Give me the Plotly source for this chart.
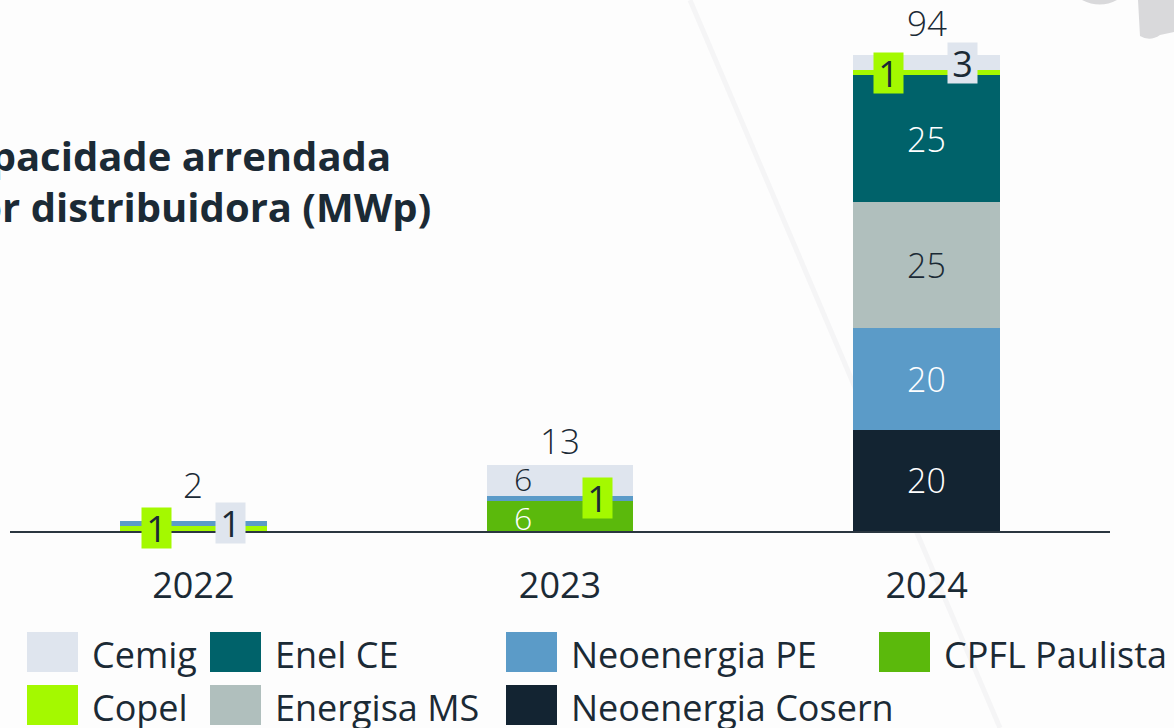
import plotly.graph_objects as go

# ---------------- data ----------------
years = ["2022", "2023", "2024"]
cosern = [0, 0, 20]
neo_pe = [0, 0, 20]
energisa = [0, 0, 25]
enel = [0, 0, 25]
cpfl = [0, 6, 0]
copel = [1, 1, 1]
cemig = [1, 6, 3]
totals = [2, 13, 94]

legend_row1 = ["Cemig", "Enel CE", "Neoenergia PE", "CPFL Paulista"]
legend_row2 = ["Copel", "Energisa MS", "Neoenergia Cosern"]

title_lines = ["Capacidade arrendada", "por distribuidora (MWp)"]

# ---------------- styles ----------------
C_CEMIG = "#dfe5ee"
C_ENEL = "#00626a"
C_PE = "#5b9bc8"
C_CPFL = "#5bb90c"
C_COPEL = "#a4f900"
C_ENERGISA = "#b0bfbd"
C_COSERN = "#132432"
TXT = "#1b2a35"
FONT = "Open Sans"

W, H = 1174, 728
L, R, T, B = 10, 64, 0, 197
PW, PH = W - L - R, H - T - B
PX_PER_UNIT = 5.064
YMAX = PH / PX_PER_UNIT


def px(x):
    return (x - L) / PW


def py(y):
    return (H - B - y) / PH


xs = list(range(len(years)))

traces = [
    ("Neoenergia Cosern", cosern, [C_COSERN] * 3),
    ("Neoenergia PE", neo_pe, [C_PE] * 3),
    ("Energisa MS", energisa, [C_ENERGISA] * 3),
    ("Enel CE", enel, [C_ENEL] * 3),
    ("CPFL Paulista", cpfl, [C_CPFL] * 3),
    ("Copel", copel, [C_COPEL, C_PE, C_COPEL]),
    ("Cemig", cemig, [C_PE, C_CEMIG, C_CEMIG]),
]
values = {n: v for n, v, c in traces}

fig = go.Figure()
for name, vals, cols in traces:
    fig.add_trace(go.Bar(
        x=xs, y=vals, name=name, width=0.4,
        marker=dict(color=cols, line=dict(width=0)),
        showlegend=False, hoverinfo="skip",
    ))

annotations = []
num_font = dict(family=FONT, size=34, color=TXT, weight=300)

# cumulative bases
bases = {}
cum = [0, 0, 0]
for name, vals, cols in traces:
    bases[name] = list(cum)
    cum = [c + v for c, v in zip(cum, vals)]


def seg_mid(name, i):
    return bases[name][i] + values[name][i] / 2


# centered labels on 2024 large segments
inside_specs = [
    ("Neoenergia Cosern", 2, "white"),
    ("Neoenergia PE", 2, "white"),
    ("Energisa MS", 2, TXT),
    ("Enel CE", 2, "white"),
]
for name, i, col in inside_specs:
    annotations.append(dict(
        x=xs[i], y=seg_mid(name, i), xref="x", yref="y", text=str(values[name][i]),
        showarrow=False, font=dict(num_font, color=col),
    ))

# 2023 labels offset left
for name, col, dy in [("CPFL Paulista", "white", -2), ("Cemig", TXT, 2)]:
    annotations.append(dict(
        x=xs[1], y=seg_mid(name, 1), xref="x", yref="y", text=str(values[name][1]),
        showarrow=False, xshift=-37, yshift=dy, font=dict(num_font, size=32, color=col),
    ))

# boxed small labels
box_specs = [
    ("Copel", 0, -37, C_COPEL),
    ("Cemig", 0, 37, C_CEMIG),
    ("Copel", 1, 37, C_COPEL),
    ("Copel", 2, -38, C_COPEL),
    ("Cemig", 2, 36, C_CEMIG),
]
for name, i, dx, bg in box_specs:
    annotations.append(dict(
        x=xs[i], y=seg_mid(name, i), xref="x", yref="y", text=str(values[name][i]),
        showarrow=False, xshift=dx, bgcolor=bg, width=29, height=40,
        borderpad=0, font=dict(num_font, size=36, color=TXT, weight=400),
    ))

# totals
total_shift = [36, 25, 32]
for i, t in enumerate(totals):
    annotations.append(dict(
        x=xs[i], y=t, xref="x", yref="y", text=str(t), showarrow=False,
        yshift=total_shift[i], font=dict(num_font, size=35),
    ))

# title (clipped on the left as in the reference)
for line, xr, yc in zip(title_lines, [393, 433], [155, 206]):
    annotations.append(dict(
        x=px(xr), y=py(yc), xref="paper", yref="paper", text=line,
        showarrow=False, xanchor="right", yanchor="middle",
        font=dict(family=FONT, size=40, color=TXT, weight=700),
    ))

# manual legend
shapes = []
legend_colors = {
    "Cemig": C_CEMIG, "Enel CE": C_ENEL, "Neoenergia PE": C_PE,
    "CPFL Paulista": C_CPFL, "Copel": C_COPEL, "Energisa MS": C_ENERGISA,
    "Neoenergia Cosern": C_COSERN,
}
box_x = [27, 210, 506, 879]
for row, (names, ytop) in enumerate([(legend_row1, 632), (legend_row2, 685)]):
    for j, nm in enumerate(names):
        x0 = box_x[j]
        shapes.append(dict(
            type="rect", xref="paper", yref="paper",
            x0=px(x0), x1=px(x0 + 51), y0=py(ytop), y1=py(ytop + 40),
            fillcolor=legend_colors[nm], line=dict(width=0), layer="above",
        ))
        annotations.append(dict(
            x=px(x0 + 63), y=py(ytop + 22), xref="paper", yref="paper",
            text=nm, showarrow=False, xanchor="left", yanchor="middle",
            font=dict(family=FONT, size=36, color=TXT, weight=400),
        ))

# faint background decorations
shapes.append(dict(
    type="line", xref="paper", yref="paper",
    x0=px(690), y0=py(0), x1=px(1000), y1=py(728),
    line=dict(color="#f5f5f6", width=5), layer="below",
))
shapes.append(dict(
    type="path", xref="paper", yref="paper",
    path=f"M {px(1082)} {py(0)} Q {px(1100)} {py(9)} {px(1117)} {py(0)} Z",
    fillcolor="#d9d9db", line=dict(width=0), layer="below",
))
shapes.append(dict(
    type="path", xref="paper", yref="paper",
    path=(f"M {px(1138)} {py(0)} L {px(1140)} {py(36)} Q {px(1150)} {py(42)} {px(1160)} {py(35)} "
          f"L {px(1174)} {py(32)} L {px(1174)} {py(0)} Z"),
    fillcolor="#d9d9db", line=dict(width=0), layer="below",
))

fig.update_layout(
    width=W, height=H,
    margin=dict(l=L, r=R, t=T, b=B),
    barmode="stack",
    bargap=0,
    paper_bgcolor="#fdfdfd",
    plot_bgcolor="rgba(0,0,0,0)",
    annotations=annotations,
    shapes=shapes,
    showlegend=False,
    xaxis=dict(
        tickmode="array", tickvals=xs, ticktext=years,
        range=[-0.5, 2.5], showgrid=False, zeroline=False,
        showline=True, linecolor="#2a3640", linewidth=2,
        ticks="", ticklabelstandoff=22,
        tickfont=dict(family=FONT, size=36, color=TXT, weight=400),
        fixedrange=True,
    ),
    yaxis=dict(range=[0, YMAX], visible=False, fixedrange=True),
)

fig.write_html(
    "out.html",
    config={"displayModeBar": False},
    post_script="document.body.style.margin='0';document.body.style.overflow='hidden';",
)
